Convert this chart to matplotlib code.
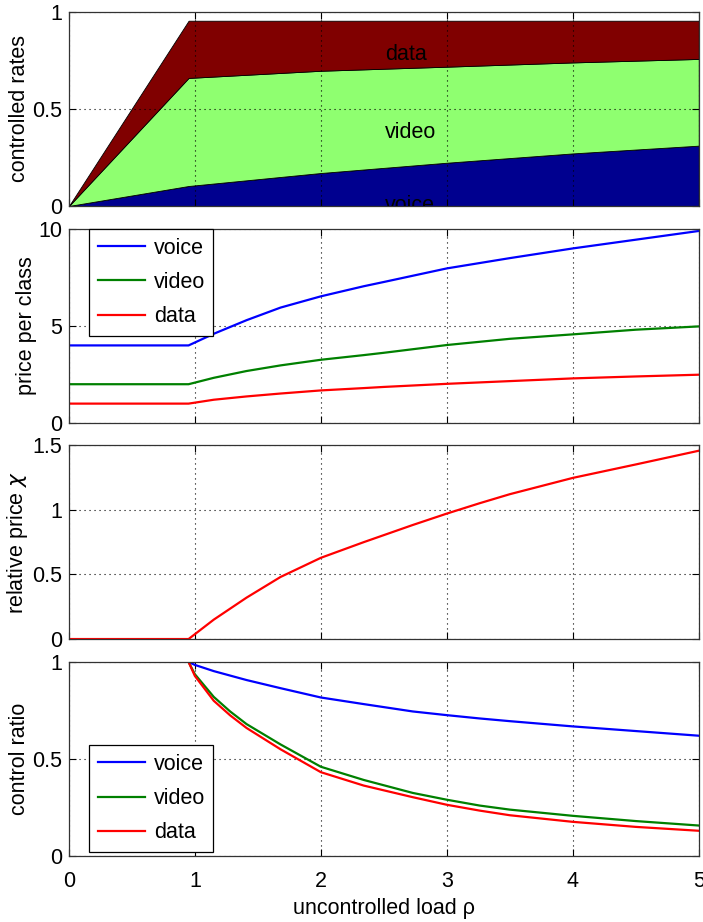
import matplotlib

matplotlib.use("Agg")
import matplotlib.pyplot as plt

plt.rcParams["font.family"] = ["Liberation Sans", "DejaVu Sans"]
plt.rcParams["mathtext.fontset"] = "dejavusans"

# panel 1: controlled rates per class (stacked)
rate_x = [0.0, 0.95, 2.0, 3.0, 4.0, 5.0]
rate_voice = [0.0, 0.103, 0.170, 0.223, 0.271, 0.311]
rate_video = [0.0, 0.557, 0.527, 0.495, 0.469, 0.447]
rate_data = [0.0, 0.295, 0.258, 0.237, 0.215, 0.197]

# panel 2: price per class
price_x = [0.0, 0.95, 1.15, 1.41, 1.68, 2.0, 2.34, 2.5, 3.0, 3.5, 4.0, 4.5, 5.0]
price_voice = [4.0, 4.0, 4.6, 5.3, 5.95, 6.53, 7.05, 7.27, 7.97, 8.5, 9.0, 9.45, 9.9]
price_video = [2.0, 2.0, 2.33, 2.68, 2.97, 3.26, 3.50, 3.62, 4.02, 4.34, 4.57, 4.81, 4.98]
price_data = [1.0, 1.0, 1.2, 1.37, 1.52, 1.68, 1.8, 1.86, 2.02, 2.16, 2.3, 2.4, 2.49]

# panel 3: relative price chi
chi_x = [0.0, 0.95, 1.15, 1.41, 1.68, 2.0, 2.34, 2.73, 3.0, 3.26, 3.5, 4.0, 4.5, 5.0]
chi = [0.0, 0.0, 0.15, 0.32, 0.48, 0.628, 0.749, 0.882, 0.97, 1.05, 1.12, 1.246, 1.35, 1.456]

# panel 4: control ratio
ratio_x = [0.95, 1.0, 1.15, 1.28, 1.41, 1.68, 2.0, 2.34, 2.73, 3.0, 3.26, 3.5, 4.0, 4.5, 5.0]
ratio_voice = [1.0, 0.985, 0.953, 0.93, 0.907, 0.865, 0.817, 0.783, 0.745, 0.726, 0.709,
               0.695, 0.668, 0.644, 0.62]
ratio_video = [1.0, 0.937, 0.82, 0.745, 0.68, 0.575, 0.46, 0.392, 0.325, 0.29, 0.26,
               0.239, 0.207, 0.18, 0.157]
ratio_data = [1.0, 0.928, 0.80, 0.725, 0.66, 0.55, 0.432, 0.363, 0.303, 0.264, 0.234,
              0.21, 0.176, 0.15, 0.13]

class_names = ["voice", "video", "data"]
x_ticks = [0, 1, 2, 3, 4, 5]

FS = 15.5
LINE_COLORS = ["#0000ff", "#008000", "#ff0000"]
AREA_COLORS = ["#00008f", "#8fff70", "#800000"]

fig = plt.figure(figsize=(7.03, 9.22), dpi=100)
left, width, height = 0.098, 0.896, 0.2104
bottoms = [0.7766, 0.5412, 0.3069, 0.0716]
axes = [fig.add_axes([left, b, width, height]) for b in bottoms]


def style_axis(ax, yticks, ylabels):
    ax.set_xlim(0, 5)
    ax.set_ylim(yticks[0], yticks[-1])
    ax.set_xticks(x_ticks)
    ax.set_yticks(yticks)
    ax.set_yticklabels(ylabels)
    ax.tick_params(direction="in", length=5, width=0.8, top=True, right=True,
                   labelsize=FS, pad=5)
    ax.tick_params(axis="x", pad=11)
    ax.grid(True, color="black", linestyle=(0, (1, 3.5)), linewidth=0.8)
    for spine in ax.spines.values():
        spine.set_linewidth(0.9)
        spine.set_color("#333333")


ax = axes[0]
ax.stackplot(rate_x, rate_voice, rate_video, rate_data, colors=AREA_COLORS,
             edgecolor="black", linewidth=0.6)
for name, (tx, ty) in zip(class_names, [(2.51, 0.0), (2.51, 0.38), (2.51, 0.78)]):
    ax.text(tx, ty, name, fontsize=FS, va="center", ha="left", clip_on=True)
style_axis(ax, [0, 0.5, 1], ["0", "0.5", "1"])
ax.set_ylabel("controlled rates", fontsize=FS, labelpad=1.5)

ax = axes[1]
for series, name, color in zip([price_voice, price_video, price_data], class_names, LINE_COLORS):
    ax.plot(price_x, series, color=color, linewidth=1.6, label=name)
style_axis(ax, [0, 5, 10], ["0", "5", "10"])
ax.set_ylabel("price per class", fontsize=FS, labelpad=1)

ax = axes[2]
ax.plot(chi_x, chi, color=LINE_COLORS[2], linewidth=1.6)
style_axis(ax, [0, 0.5, 1, 1.5], ["0", "0.5", "1", "1.5"])
ax.set_ylabel(r"relative price $\chi$", fontsize=FS, labelpad=1.5)

ax = axes[3]
for series, name, color in zip([ratio_voice, ratio_video, ratio_data], class_names, LINE_COLORS):
    ax.plot(ratio_x, series, color=color, linewidth=1.6, label=name)
style_axis(ax, [0, 0.5, 1], ["0", "0.5", "1"])
ax.set_ylabel("control ratio", fontsize=FS, labelpad=1.5)
ax.set_xlabel("uncontrolled load \u03c1", fontsize=FS, labelpad=4)

for ax in axes[:3]:
    ax.tick_params(labelbottom=False)

legend_style = dict(fontsize=FS, frameon=True, fancybox=False, framealpha=1,
                    edgecolor="black", handlelength=2.2, handletextpad=0.4,
                    labelspacing=0.62, borderpad=0.4, borderaxespad=0)
leg = axes[1].legend(loc="upper left", bbox_to_anchor=(0.032, 1.0), **legend_style)
leg.get_frame().set_linewidth(0.9)
leg = axes[3].legend(loc="lower left", bbox_to_anchor=(0.032, 0.02), **legend_style)
leg.get_frame().set_linewidth(0.9)

fig.savefig("out.png", dpi=100, facecolor="white")
